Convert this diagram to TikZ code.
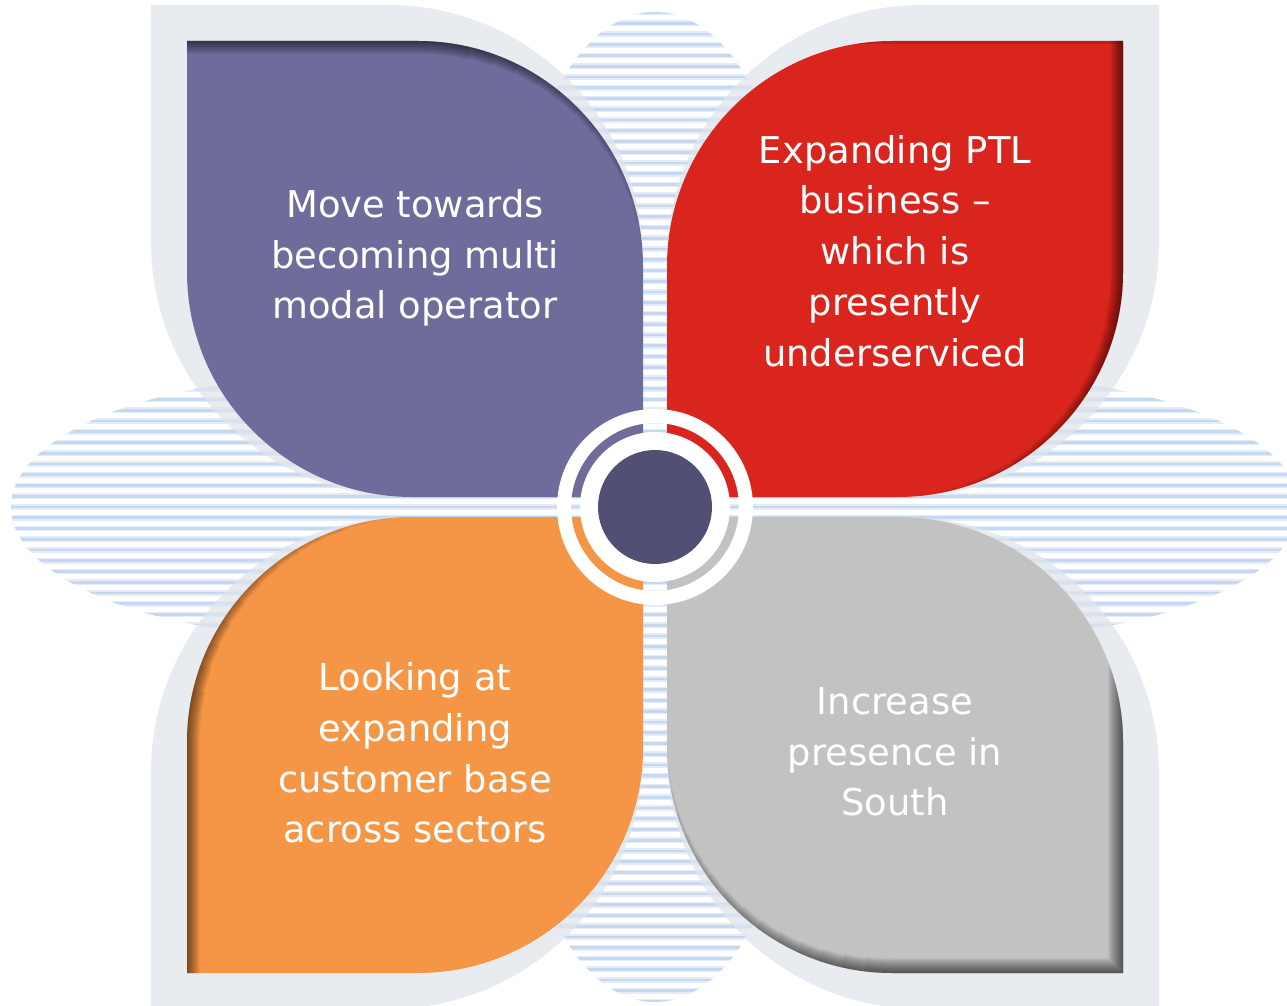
\documentclass[tikz,border=0pt]{standalone}
\usepackage{fontspec}
\setmainfont{DejaVu Sans}
\definecolor{cpurple}{HTML}{6F6B9A}
\definecolor{cred}{HTML}{D9251D}
\definecolor{corange}{HTML}{F59646}
\definecolor{cgray}{HTML}{C2C2C2}
\definecolor{cdark}{HTML}{524F75}
\definecolor{clight}{HTML}{E0E5EC}
\definecolor{cstripe}{HTML}{C5D8EF}
\definecolor{cstripesoft}{HTML}{E3ECF8}
\tikzset{
  petaltext/.style={text=white, align=center, font=\fontsize{21}{28.9}\selectfont, inner sep=0pt},
  lightshape/.style={fill=clight, fill opacity=0.75},
  shadowline/.style={black, opacity=0.05, line join=round},
}
% petal outlines
\newcommand\pathPurple{(187,41) -- (418,41) .. controls (542,41) and (643,142) .. (643,266) -- (643,497) -- (412,497) .. controls (288,497) and (187,396) .. (187,272) -- cycle}
\newcommand\pathRed{(1123,41) -- (1123,272) .. controls (1123,396) and (1022,497) .. (898,497) -- (667,497) -- (667,266) .. controls (667,142) and (768,41) .. (892,41) -- cycle}
\newcommand\pathOrange{(187,973) -- (187,742) .. controls (187,618) and (288,517) .. (412,517) -- (643,517) -- (643,748) .. controls (643,872) and (542,973) .. (418,973) -- cycle}
\newcommand\pathGray{(667,517) -- (898,517) .. controls (1022,517) and (1123,618) .. (1123,742) -- (1123,973) -- (892,973) .. controls (768,973) and (667,872) .. (667,748) -- cycle}
\newcommand\shwidths{1.2,2.4,3.6,4.8,6,7.2,8.4,9.6,10.8,12,13.2,14.4}
\begin{document}
\begin{tikzpicture}[x=0.02cm, y=-0.02cm]
\useasboundingbox (0,0) rectangle (1287,1006);
% striped leaves
\begin{scope}
  \clip (331,507) ellipse[x radius=6.4cm, y radius=2.6cm]
        (979,507) ellipse[x radius=6.4cm, y radius=2.6cm]
        (655,259) ellipse[x radius=2.7cm, y radius=4.94cm]
        (655,755) ellipse[x radius=2.7cm, y radius=4.94cm];
  \foreach \k in {-47,...,47} {
    \draw[cstripesoft, line width=3.2pt] (0,507+10.75*\k) -- (1287,507+10.75*\k);
    \draw[cstripe, line width=1.5pt] (0,507+10.75*\k) -- (1287,507+10.75*\k);
  }
\end{scope}
% light backing shapes
\fill[lightshape] (151,5) -- (388,5) .. controls (529,5) and (643,119) .. (643,260) -- (643,497) -- (406,497) .. controls (265,497) and (151,383) .. (151,242) -- cycle;
\fill[lightshape] (1159,5) -- (1159,242) .. controls (1159,383) and (1045,497) .. (904,497) -- (667,497) -- (667,260) .. controls (667,119) and (781,5) .. (922,5) -- cycle;
\fill[lightshape] (151,1009) -- (151,772) .. controls (151,631) and (265,517) .. (406,517) -- (643,517) -- (643,754) .. controls (643,895) and (529,1009) .. (388,1009) -- cycle;
\fill[lightshape] (667,517) -- (904,517) .. controls (1045,517) and (1159,631) .. (1159,772) -- (1159,1009) -- (922,1009) .. controls (781,1009) and (667,895) .. (667,754) -- cycle;
% petals
\fill[cpurple] \pathPurple;
\fill[cred] \pathRed;
\fill[corange] \pathOrange;
\fill[cgray] \pathGray;
% inner shadows, tapering along the rounded corner
\begin{scope}
  \clip \pathPurple;
  \foreach \w [count=\i] in \shwidths {
    \pgfmathsetmacro\e{5+(\i-1)*6.5}
    \draw[shadowline, line width=\w pt] (187,41) -- plot[domain=90:\e, samples=24] ({418+225*cos(\x)},{266-225*sin(\x)});
  }
\end{scope}
\begin{scope}
  \clip \pathRed;
  \foreach \w [count=\i] in \shwidths {
    \pgfmathsetmacro\e{-85+(\i-1)*6.5}
    \draw[shadowline, line width=\w pt] (1123,41) -- plot[domain=0:\e, samples=24] ({898+225*cos(\x)},{272-225*sin(\x)});
  }
  \draw[black, opacity=0.12, line width=3pt] (667,41) -- (1123,41);
\end{scope}
\begin{scope}
  \clip \pathOrange;
  \foreach \w [count=\i] in \shwidths {
    \pgfmathsetmacro\e{95+(\i-1)*6.5}
    \draw[shadowline, line width=\w pt] (187,973) -- plot[domain=180:\e, samples=24] ({412+225*cos(\x)},{742-225*sin(\x)});
  }
\end{scope}
\begin{scope}
  \clip \pathGray;
  \foreach \w [count=\i] in {1.2,2.4,3.6,4.8,6,7.2,8.4,9.6,10.8,12,13.2,14.4,15.6,16.8} {
    \pgfmathsetmacro\e{-175+(\i-1)*6}
    \draw[shadowline, line width=\w pt] (1123,517) -- (1123,973) -- plot[domain=-90:\e, samples=24] ({892+225*cos(\x)},{748-225*sin(\x)});
  }
\end{scope}
% centre rings
\fill[white, even odd rule] (655,507) circle[radius=1.96cm] (655,507) circle[radius=1.68cm];
\fill[white] (655,507) circle[radius=1.5cm];
\node[circle, fill=cdark, minimum size=2.28cm, inner sep=0pt] (hub) at (655,507) {};
% texts
\node[petaltext] (t1) at (415,258) {Move towards\\becoming multi\\modal operator};
\node[petaltext] (t2) at (895,251) {Expanding PTL\\business –\\which is\\presently\\underserviced};
\node[petaltext] (t3) at (415,753) {Looking at\\expanding\\customer base\\across sectors};
\node[petaltext] (t4) at (895,752) {Increase\\presence in\\South};
\end{tikzpicture}
\end{document}
